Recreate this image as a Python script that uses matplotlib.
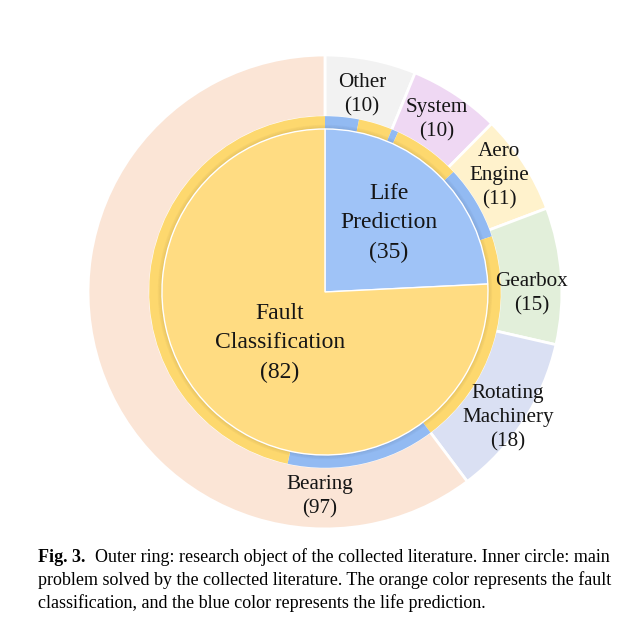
import matplotlib.pyplot as plt

"""
Outer ring: research object, inner circle: main problem solved
"""

# Outer ring: research object of the collected literature
objects = ['Other', 'System', 'Aero\nEngine', 'Gearbox', 'Rotating\nMachinery', 'Bearing']
object_counts = [10, 10, 11, 15, 18, 97]
object_colors = ['#F2F2F2', '#EFD8F3', '#FFF2CC', '#E2EFDA', '#DAE0F3', '#FBE5D6']

# Thin band: problem split along the ring (L = life prediction, F = fault classification)
band_kinds = ['L', 'F', 'L', 'F', 'L', 'F', 'L', 'F']
band_values = [5, 5, 1, 10, 11, 32, 22, 75]

# Inner circle: main problem solved
problems = ['Life\nPrediction', 'Fault\nClassification']
problem_counts = [35, 82]

caption_bold = 'Fig. 3.'
caption_lines = ['Outer ring: research object of the collected literature. Inner circle: main',
                 'problem solved by the collected literature. The orange color represents the fault',
                 'classification, and the blue color represents the life prediction.']

# Styles
life_color = '#9FC3F7'
fault_color = '#FFDC82'
band_colors = {'L': '#92BAF2', 'F': '#FDD86E'}
r_outer = 1.0
r_band = 0.738
r_inner = 0.688
serif = ['Liberation Serif', 'DejaVu Serif']

# label positions in data units (outer ring radius = 1)
object_label_xy = [(0.156, 0.831), (0.473, 0.726), (0.734, 0.489),
                   (0.873, -0.008), (0.772, -0.532), (-0.021, -0.865)]
problem_label_xy = [(0.270, 0.291), (-0.190, -0.215)]

fig = plt.figure(figsize=(6.43, 6.32), dpi=100)
ax = fig.add_axes([0.1369, 0.163, 0.737, 0.75])

ax.pie(object_counts, radius=r_outer, startangle=90, counterclock=False,
       colors=object_colors,
       wedgeprops=dict(width=r_outer - r_band, edgecolor='white', linewidth=2))

ax.pie(band_values, radius=r_band + 0.004, startangle=90, counterclock=False,
       colors=[band_colors[k] for k in band_kinds],
       wedgeprops=dict(width=r_band + 0.004 - r_inner, linewidth=0))

# soft shadow on the inside of the band
for i in range(6):
    ax.pie([1], radius=r_inner + 0.003 * (i + 1), startangle=90,
           colors=['black'],
           wedgeprops=dict(width=0.003, linewidth=0, alpha=0.09 - 0.014 * i))

# inner circle drawn from the band totals
life_total = sum(v for v, k in zip(band_values, band_kinds) if k == 'L')
fault_total = sum(v for v, k in zip(band_values, band_kinds) if k == 'F')
ax.pie([life_total, fault_total], radius=r_inner, startangle=90, counterclock=False,
       colors=[life_color, fault_color],
       wedgeprops=dict(edgecolor='white', linewidth=1))

for name, n, (x, y) in zip(objects, object_counts, object_label_xy):
    ax.text(x, y, f'{name}\n({n})', ha='center', va='center', fontsize=15.2,
            family=serif, linespacing=1.36, color='#151515')

for name, n, (x, y) in zip(problems, problem_counts, problem_label_xy):
    ax.text(x, y, f'{name}\n({n})', ha='center', va='center', fontsize=17,
            family=serif, linespacing=1.5, color='#151515')

ax.set_xlim(-1, 1)
ax.set_ylim(-1, 1)
ax.set_aspect('equal')
ax.axis('off')

# caption
x0 = 38 / 643
ys = [1 - 557 / 632, 1 - 580 / 632, 1 - 603 / 632]
cap_size = 13
t = fig.text(x0, ys[0], caption_bold, fontsize=cap_size, fontweight='bold',
             family=serif, va='center')
renderer = fig.canvas.get_renderer()
bb = t.get_window_extent(renderer)
fig.text(bb.x1 / fig.bbox.width + 10 / 643, ys[0], caption_lines[0], fontsize=cap_size,
         family=serif, va='center')
for y, line in zip(ys[1:], caption_lines[1:]):
    fig.text(x0, y, line, fontsize=cap_size, family=serif, va='center')

fig.savefig('out.png', dpi=100)
